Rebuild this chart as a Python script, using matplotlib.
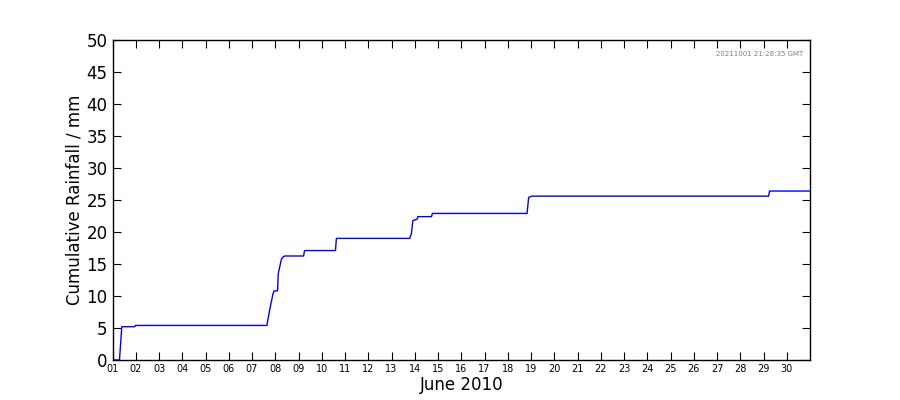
import datetime as dt
import matplotlib
matplotlib.use("Agg")
import matplotlib.pyplot as plt
import matplotlib.dates as mdates

# fractional day of June 2010 and cumulative rainfall (mm)
day_of_month = [1.0, 1.30, 1.40, 1.96, 1.98, 7.64, 7.76, 7.90, 7.95, 8.10, 8.13,
                8.16, 8.26, 8.34, 8.40, 9.22, 9.26, 10.59, 10.63, 13.78, 13.86,
                13.92, 14.10, 14.14, 14.72, 14.76, 18.83, 18.90, 19.03, 29.22,
                29.26, 31.0]
rain_mm = [0.0, 0.0, 5.2, 5.2, 5.4, 5.4, 7.8, 10.3, 10.8, 10.8, 13.5,
           14.0, 15.7, 16.1, 16.25, 16.25, 17.1, 17.1, 19.0, 19.0, 19.8,
           21.8, 22.0, 22.4, 22.4, 22.9, 22.9, 25.4, 25.6, 25.6,
           26.4, 26.4]
stamp = "20211001 21:28:35 GMT"

start = dt.datetime(2010, 6, 1)
times = [start + dt.timedelta(days=d - 1) for d in day_of_month]
tick_days = [start + dt.timedelta(days=i) for i in range(30)]

fig = plt.figure(figsize=(9, 4), dpi=100)
ax = fig.add_axes([0.125, 0.1, 0.775, 0.8])
ax.plot(times, rain_mm, color="#0000ff", lw=1)

ax.set_xlim(start, dt.datetime(2010, 7, 1))
ax.set_ylim(0, 50)
ax.set_yticks(range(0, 51, 5))
ax.set_xticks(tick_days)
ax.xaxis.set_major_formatter(mdates.DateFormatter("%d"))

ax.tick_params(axis="both", direction="in", top=True, right=True, length=6)
ax.tick_params(axis="x", labelsize=7, pad=3)
ax.tick_params(axis="y", labelsize=12)
for s in ax.spines.values():
    s.set_linewidth(1)

ax.set_xlabel("June 2010", fontsize=12, labelpad=1)
ax.set_ylabel("Cumulative Rainfall / mm", fontsize=12, labelpad=2)
ax.text(0.99, 0.965, stamp, transform=ax.transAxes, ha="right", va="top",
        fontsize=5, color="grey")

fig.savefig("out.png", dpi=100)
